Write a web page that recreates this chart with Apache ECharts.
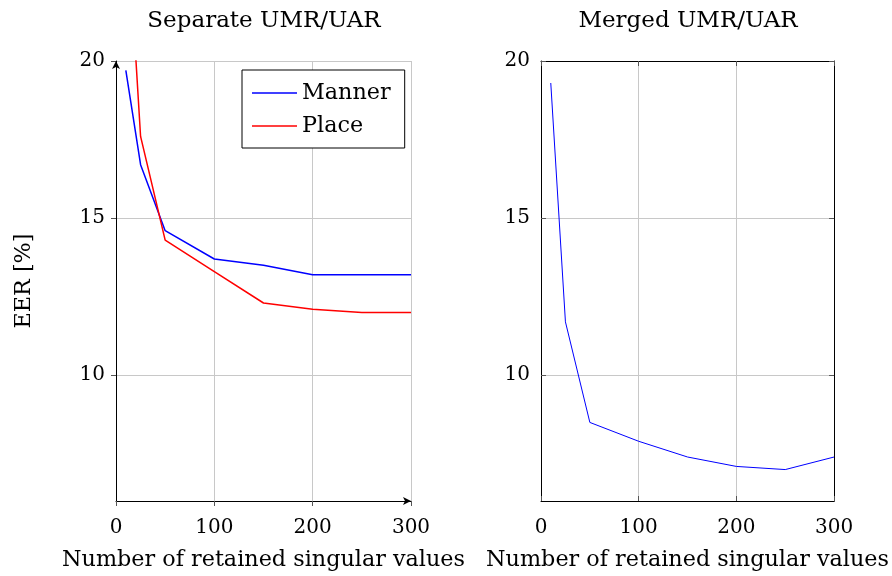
<!DOCTYPE html>
<html>
<head>
<meta charset="utf-8">
<script src="https://cdn.jsdelivr.net/npm/echarts@6/dist/echarts.min.js"></script>
<style>
html,body{margin:0;padding:0;background:#fff;overflow:hidden;}
#main{width:892px;height:576px;}
</style>
</head>
<body>
<div id="main"></div>
<script>
const xValues = [10, 25, 50, 100, 150, 200, 250, 300];
const mannerValues = [19.7, 16.7, 14.6, 13.7, 13.5, 13.2, 13.2, 13.2];
const placeValues = [25.3, 17.6, 14.3, 13.3, 12.3, 12.1, 12.0, 12.0];
const mergedValues = [19.3, 11.7, 8.5, 7.9, 7.4, 7.1, 7.0, 7.4];
const xTickValues = [0, 100, 200, 300];
const yTickValues = [10, 15, 20];
const titles = ['Separate UMR/UAR', 'Merged UMR/UAR'];
const seriesNames = ['Manner', 'Place'];
const xName = 'Number of retained singular values';
const yName = 'EER [%]';

const FONT = 'DejaVu Serif';
const FS = 20;      // tick labels
const FN = 22.3;    // axis names / legend
const FT = 23;      // titles
const gridColor = '#c8c8c8';
const tickColor = '#555';

const pairs = vals => xValues.map((x, i) => [x, vals[i]]);

const chart = echarts.init(document.getElementById('main'), null, {renderer: 'canvas'});

function xAxisBase(gridIndex) {
  return {
    type: 'value', gridIndex, min: 0, max: 300, interval: 100,
    name: xName, nameLocation: 'middle', nameGap: 48,
    nameTextStyle: {fontFamily: FONT, fontSize: FN, color: '#000'},
    axisLabel: {fontFamily: FONT, fontSize: FS, color: '#000', margin: 17},
    splitLine: {show: true, lineStyle: {color: gridColor, width: 1}}
  };
}
function yAxisBase(gridIndex) {
  return {
    type: 'value', gridIndex, min: 6, max: 20,
    axisLabel: {fontFamily: FONT, fontSize: FS, color: '#000', margin: 11, customValues: yTickValues},
    axisTick: {show: true, customValues: yTickValues, length: 5, lineStyle: {color: tickColor}},
    splitLine: {show: true, lineStyle: {color: gridColor, width: 1}}
  };
}

const option = {
  backgroundColor: '#fff',
  animation: false,
  title: [
    {text: titles[0], left: 264, top: 10, textAlign: 'center', padding: 0,
     textStyle: {fontFamily: FONT, fontSize: FT, fontWeight: 'normal', color: '#000'}},
    {text: titles[1], left: 688, top: 10, textAlign: 'center', padding: 0,
     textStyle: {fontFamily: FONT, fontSize: FT, fontWeight: 'normal', color: '#000'}}
  ],
  legend: {
    data: seriesNames,
    orient: 'vertical',
    left: 242, top: 70,
    padding: [11, 14, 10, 10],
    itemGap: 9,
    itemWidth: 45, itemHeight: 1.5,
    icon: 'rect',
    borderColor: '#000', borderWidth: 1,
    backgroundColor: '#fff',
    textStyle: {fontFamily: FONT, fontSize: FN, color: '#000', lineHeight: 24}
  },
  grid: [
    {left: 116, top: 61, width: 295, height: 444, containLabel: false},
    {left: 541, top: 61, width: 295, height: 444, containLabel: false}
  ],
  xAxis: [
    Object.assign(xAxisBase(0), {
      axisLine: {show: true, lineStyle: {color: '#000', width: 1}, symbol: ['none', 'arrow'], symbolSize: [6, 8]},
      axisTick: {show: true, length: 5, lineStyle: {color: tickColor}}
    }),
    Object.assign(xAxisBase(1), {
      axisLine: {show: true, lineStyle: {color: '#000', width: 1}},
      axisTick: {show: true, inside: true, length: 5, lineStyle: {color: tickColor}}
    }),
    {type: 'value', gridIndex: 1, position: 'top', min: 0, max: 300, interval: 100,
     axisLine: {show: true, onZero: false, lineStyle: {color: '#000', width: 1}},
     axisTick: {show: true, inside: true, length: 5, lineStyle: {color: tickColor}},
     axisLabel: {show: false}, splitLine: {show: false}}
  ],
  yAxis: [
    Object.assign(yAxisBase(0), {
      name: yName, nameLocation: 'middle', nameGap: 81, nameRotate: 90,
      nameTextStyle: {fontFamily: FONT, fontSize: FN, color: '#000'},
      axisLine: {show: true, onZero: false, lineStyle: {color: '#000', width: 1}, symbol: ['none', 'arrow'], symbolSize: [6, 8]}
    }),
    (function(){
      const a = yAxisBase(1);
      a.axisLine = {show: true, onZero: false, lineStyle: {color: '#000', width: 1}};
      a.axisTick = {show: true, inside: true, customValues: yTickValues, length: 5, lineStyle: {color: tickColor}};
      return a;
    })(),
    {type: 'value', gridIndex: 1, position: 'right', min: 6, max: 20,
     axisLine: {show: true, onZero: false, lineStyle: {color: '#000', width: 1}},
     axisTick: {show: true, inside: true, customValues: yTickValues, length: 5, lineStyle: {color: tickColor}},
     axisLabel: {show: false}, splitLine: {show: false}}
  ],
  series: [
    {name: seriesNames[0], type: 'line', xAxisIndex: 0, yAxisIndex: 0, data: pairs(mannerValues),
     showSymbol: false, symbol: 'none', clip: true, color: '#0000ff',
     lineStyle: {color: '#0000ff', width: 1.5}},
    {name: seriesNames[1], type: 'line', xAxisIndex: 0, yAxisIndex: 0, data: pairs(placeValues),
     showSymbol: false, symbol: 'none', clip: true, color: '#ff0000',
     lineStyle: {color: '#ff0000', width: 1.5}},
    {name: 'Merged', type: 'line', xAxisIndex: 1, yAxisIndex: 1, data: pairs(mergedValues),
     showSymbol: false, symbol: 'none', clip: true, color: '#0000ff',
     lineStyle: {color: '#0000ff', width: 1}}
  ]
};
chart.setOption(option);
</script>
</body>
</html>
